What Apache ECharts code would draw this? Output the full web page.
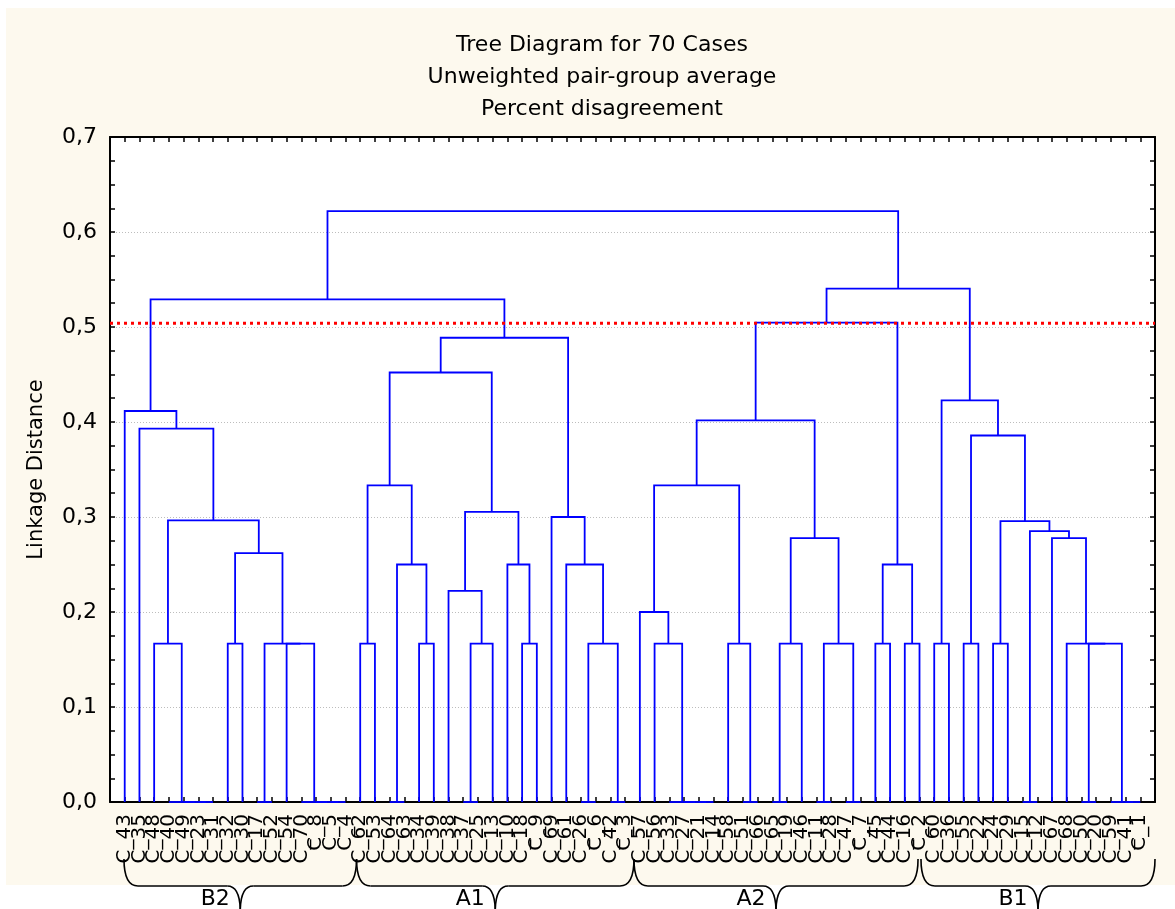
<!DOCTYPE html>
<html>
<head>
<meta charset="utf-8">
<title>Tree Diagram for 70 Cases</title>
<script src="https://cdn.jsdelivr.net/npm/echarts@6/dist/echarts.min.js"></script>
<style>
  html, body { margin: 0; padding: 0; background: #fff; }
  #wrap { position: relative; width: 1175px; height: 909px; }
  #paper { position: absolute; left: 6px; top: 8px; width: 1169px; height: 877px; background: #fdf9ee; }
  #chart { position: absolute; left: 0; top: 0; width: 1175px; height: 909px; }
</style>
</head>
<body>
<div id="wrap"><div id="paper"></div><div id="chart"></div></div>
<script>
// leaf order along the x axis
const leafLabels = [
  'C_43', 'C_35', 'C_48', 'C_40', 'C_49', 'C_23', 'C_31', 'C_32', 'C_30', 'C_17', 'C_52', 'C_54', 'C_70', 'C_8', 'C_5', 'C_4',
  'C_62', 'C_53', 'C_64', 'C_63', 'C_34', 'C_39', 'C_38', 'C_37', 'C_25', 'C_13', 'C_10', 'C_18', 'C_9', 'C_69', 'C_61', 'C_26', 'C_6', 'C_42', 'C_3',
  'C_57', 'C_56', 'C_33', 'C_27', 'C_21', 'C_14', 'C_58', 'C_51', 'C_66', 'C_65', 'C_19', 'C_46', 'C_11', 'C_28', 'C_47', 'C_7', 'C_45', 'C_44', 'C_16', 'C_2',
  'C_60', 'C_36', 'C_55', 'C_22', 'C_24', 'C_29', 'C_15', 'C_12', 'C_67', 'C_68', 'C_50', 'C_20', 'C_59', 'C_41', 'C_1'
];

// merges: [left, right, linkage distance]; ids >= 70 mean an earlier merge (70 + row)
const merges = [
  [5, 6, 0], [4, 70, 0], [3, 71, 0], [2, 72, 0.1667], [7, 8, 0.1667],
  [9, 10, 0], [14, 15, 0], [13, 76, 0], [12, 77, 0], [11, 78, 0.1667],
  [75, 79, 0.1667], [74, 80, 0.262], [73, 81, 0.2965], [1, 82, 0.393], [0, 83, 0.4116],
  [16, 17, 0.1667], [18, 19, 0], [20, 21, 0.1667], [86, 87, 0.25], [85, 88, 0.3333],
  [23, 24, 0], [90, 25, 0.1667], [22, 91, 0.2222], [27, 28, 0.1667], [26, 93, 0.25],
  [92, 94, 0.3053], [89, 95, 0.4521], [31, 32, 0], [33, 34, 0], [97, 98, 0.1667],
  [30, 99, 0.25], [29, 100, 0.30], [96, 101, 0.4887], [84, 102, 0.529],
  [39, 40, 0], [38, 104, 0], [37, 105, 0], [36, 106, 0.1667], [35, 107, 0.2],
  [42, 43, 0], [41, 109, 0.1667], [108, 110, 0.3333], [44, 45, 0], [112, 46, 0.1667],
  [47, 48, 0], [49, 50, 0], [114, 115, 0.1667], [113, 116, 0.2777], [111, 117, 0.4018],
  [51, 52, 0.1667], [53, 54, 0.1667], [119, 120, 0.25], [118, 121, 0.5046],
  [55, 56, 0.1667], [57, 58, 0.1667], [59, 60, 0.1667], [61, 62, 0], [65, 66, 0],
  [68, 69, 0], [67, 128, 0], [127, 129, 0.1667], [64, 130, 0.1667], [63, 131, 0.2777],
  [126, 132, 0.2851], [125, 133, 0.2957], [124, 134, 0.3858], [123, 135, 0.4227],
  [122, 136, 0.5404], [103, 137, 0.622]
];

const cutLevel = 0.504;

// hand-drawn group braces under the labels (in leaf units)
const groupNames = ['B2', 'A1', 'A2', 'B1'];
const groupFrom = [-0.05, 15.75, 34.6, 54.1];
const groupTo = [15.75, 34.6, 53.9, 70];

const FONT = 'DejaVu Sans';
const n = leafLabels.length;

// leaf x = its position, node x = mean of its two children
const nodeX = leafLabels.map((_, i) => i);
const nodeH = leafLabels.map(() => 0);
const links = merges.map(([a, b, h]) => {
  const row = [nodeX[a], nodeH[a], nodeX[b], nodeH[b], h];
  nodeX.push((nodeX[a] + nodeX[b]) / 2);
  nodeH.push(h);
  return row;
});

const chart = echarts.init(document.getElementById('chart'));

const yCommon = {
  type: 'value', min: 0, max: 0.7, interval: 0.1,
  axisLine: { show: true, onZero: false, lineStyle: { color: '#000', width: 2 } },
  axisTick: { show: true, inside: true, length: 5, lineStyle: { color: '#000', width: 1.5 } },
  minorTick: { show: true, splitNumber: 4, length: 5, lineStyle: { color: '#000', width: 1.5 } }
};
const xCommon = {
  type: 'value', min: -1, max: n, interval: 1,
  axisLine: { show: true, onZero: false, lineStyle: { color: '#000', width: 2 } },
  axisTick: { show: true, inside: true, length: 5, lineStyle: { color: '#000', width: 1.5 } },
  splitLine: { show: false }
};

chart.setOption({
  animation: false,
  title: {
    text: 'Tree Diagram for 70 Cases\nUnweighted pair-group average\nPercent disagreement',
    left: 597, top: 24, textAlign: 'center',
    textStyle: { fontFamily: FONT, fontSize: 22, fontWeight: 'normal', color: '#000', lineHeight: 32 }
  },
  grid: { left: 110, right: 20, top: 137, bottom: 107, show: true, backgroundColor: '#fff', borderWidth: 0 },
  xAxis: [
    Object.assign({}, xCommon, {
      position: 'bottom',
      axisLabel: {
        show: true, rotate: 90, margin: 12, fontFamily: FONT, fontSize: 20, color: '#000',
        formatter: v => (v >= 0 && v < n ? leafLabels[v] : '')
      }
    }),
    Object.assign({}, xCommon, { position: 'top', axisLabel: { show: false } })
  ],
  yAxis: [
    Object.assign({}, yCommon, {
      position: 'left',
      name: 'Linkage Distance', nameLocation: 'middle', nameRotate: 90, nameGap: 63,
      nameTextStyle: { fontFamily: FONT, fontSize: 21, color: '#000' },
      axisLabel: { margin: 13, fontFamily: FONT, fontSize: 22, color: '#000', formatter: v => v.toFixed(1).replace('.', ',') },
      splitLine: { show: true, lineStyle: { color: '#bdbdbd', width: 1, type: [1, 2] } }
    }),
    Object.assign({}, yCommon, { position: 'right', axisLabel: { show: false }, splitLine: { show: false } })
  ],
  series: [
    {
      type: 'custom',
      name: 'tree',
      data: links,
      encode: { x: [0, 2], y: [1, 3, 4] },
      z: 3,
      renderItem: (params, api) => {
        const pts = [
          api.coord([api.value(0), api.value(1)]),
          api.coord([api.value(0), api.value(4)]),
          api.coord([api.value(2), api.value(4)]),
          api.coord([api.value(2), api.value(3)])
        ];
        return { type: 'polyline', shape: { points: pts }, style: { stroke: '#0000ff', lineWidth: 1.8, fill: null } };
      }
    },
    {
      type: 'line',
      name: 'cut',
      data: [[-1, cutLevel], [n, cutLevel]],
      symbol: 'none', silent: true, z: 4,
      lineStyle: { color: '#ff0000', width: 3, type: [3, 4] }
    }
  ]
});

// braces drawn from axis positions
const yTop = 859, yMid = 886, yTip = 912;
const graphics = [];
groupNames.forEach((name, i) => {
  const x0 = chart.convertToPixel({ xAxisIndex: 0 }, groupFrom[i]);
  const x1 = chart.convertToPixel({ xAxisIndex: 0 }, groupTo[i]);
  const xm = (x0 + x1) / 2;
  const st = { stroke: '#000', lineWidth: 1.6, fill: null };
  graphics.push(
    { type: 'bezierCurve', shape: { x1: x0, y1: yTop, cpx1: x0, cpy1: yMid, x2: x0 + 14, y2: yMid }, style: st },
    { type: 'line', shape: { x1: x0 + 14, y1: yMid, x2: xm - 13, y2: yMid }, style: st },
    { type: 'bezierCurve', shape: { x1: xm - 13, y1: yMid, cpx1: xm, cpy1: yMid, x2: xm, y2: yTip }, style: st },
    { type: 'bezierCurve', shape: { x1: x1, y1: yTop, cpx1: x1, cpy1: yMid, x2: x1 - 14, y2: yMid }, style: st },
    { type: 'line', shape: { x1: x1 - 14, y1: yMid, x2: xm + 13, y2: yMid }, style: st },
    { type: 'bezierCurve', shape: { x1: xm + 13, y1: yMid, cpx1: xm, cpy1: yMid, x2: xm, y2: yTip }, style: st },
    { type: 'text', x: xm - 25, y: 899, style: { text: name, font: '22px "DejaVu Sans"', fill: '#000', align: 'center', verticalAlign: 'middle' } }
  );
});
chart.setOption({ graphic: graphics });
</script>
</body>
</html>
